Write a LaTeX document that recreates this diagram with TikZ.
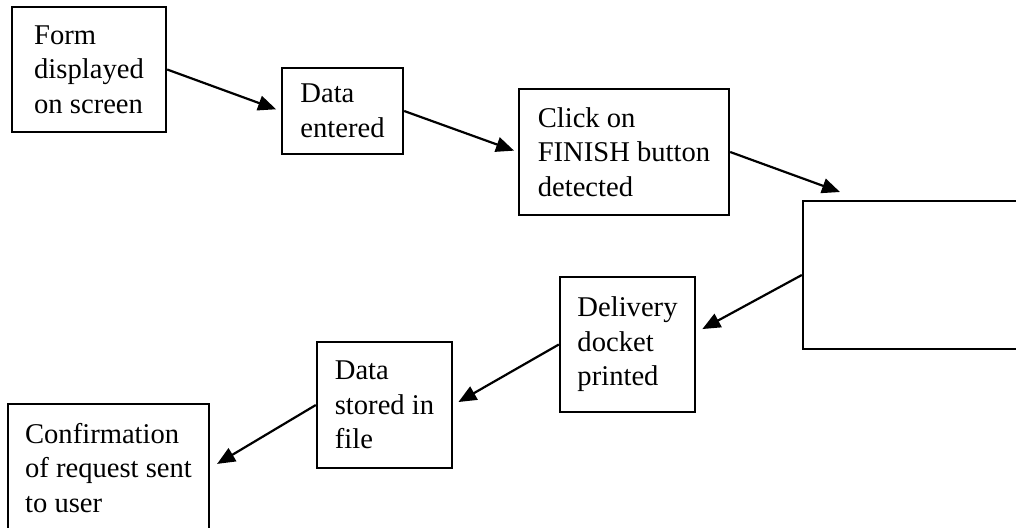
\documentclass[tikz,border=0pt]{standalone}
\usepackage{fontspec}
\setmainfont{Liberation Serif}
\usetikzlibrary{arrows.meta}
\tikzset{
        box/.style={rectangle, draw=black, line width=1.2pt, align=left, inner sep=0pt, font=\fontsize{14.3}{17.3}\selectfont},
        arr/.style={draw=black, line width=1.1pt, -{Triangle[length=9pt,width=7.5pt]}},
          }

\begin{document}
\begin{tikzpicture}[x=0.5pt, y=-0.5pt]
        \useasboundingbox (0,0) rectangle (1016,527);
        \node[box, minimum width=77pt, minimum height=62.5pt] (form) at (89,69.5) {Form\\displayed\\on screen};
        \node[box, minimum width=60.5pt, minimum height=43pt] (entered) at (342.5,111) {Data\\entered};
        \node[box, minimum width=105pt, minimum height=63pt] (click) at (624,152) {Click on\\FINISH button\\detected};
        \node[box, minimum width=110pt, minimum height=74pt] (blank) at (913,275) {};
        \node[box, minimum width=67.5pt, minimum height=67.5pt] (docket) at (627.5,344.5) {Delivery\\docket\\printed};
        \node[box, minimum width=67.5pt, minimum height=63pt] (stored) at (384.5,405) {Data\\stored in\\file};
        \node[box, minimum width=100.5pt, minimum height=64pt] (confirm) at (108.5,468) {Confirmation\\of request sent\\to user};
        \coordinate (drop) at (840,192);

        \draw[arr, shorten >=2.5pt] (form.east) -- (entered.west);
        \draw[arr, shorten >=2pt] (entered.east) -- (click.west);
        \draw[arr] (click.east) -- (drop);
        \draw[arr, shorten >=3.5pt] (blank.west) -- (docket.10);
        \draw[arr, shorten >=3pt] (docket.west) -- (stored.east);
        \draw[arr, shorten >=4pt] (stored.west) -- (confirm.east);
\end{tikzpicture}
\end{document}
